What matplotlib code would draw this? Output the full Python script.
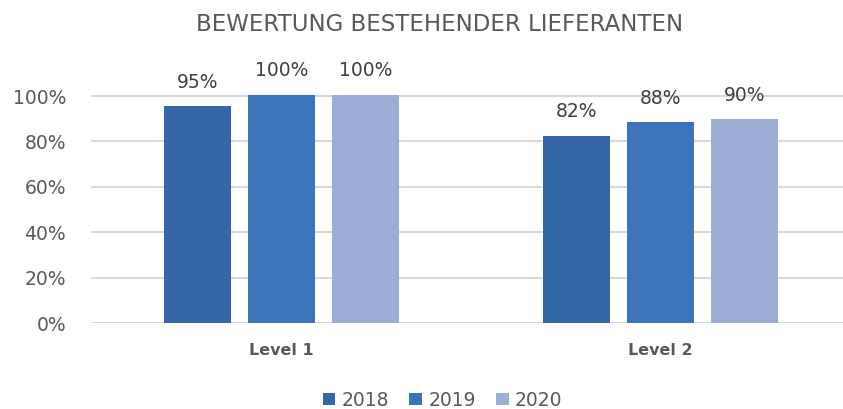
import matplotlib.pyplot as plt
import numpy as np
from matplotlib.patches import Patch

# data
categories = ['Level 1', 'Level 2']
years = ['2018', '2019', '2020']
values_2018 = [95.4, 82.4]
values_2019 = [100.4, 88.4]
values_2020 = [100.4, 89.7]
labels_2018 = [95, 82]
labels_2019 = [100, 88]
labels_2020 = [100, 90]
y_ticks = [0, 20, 40, 60, 80, 100]

colors = ['#3566A8', '#3D73BA', '#9AAED6']
text_col = '#595959'

plt.rcParams['font.family'] = ['DejaVu Sans']

fig = plt.figure(figsize=(8.43, 4.09), dpi=100)
ax = fig.add_axes([0.108, 0.2095, 0.892, 0.7763 - 0.2095])

x = np.arange(len(categories))
bar_w = 0.1755
step = 0.2217
series = [values_2018, values_2019, values_2020]
labels = [labels_2018, labels_2019, labels_2020]

for i, (vals, labs) in enumerate(zip(series, labels)):
    pos = x + (i - 1) * step
    ax.bar(pos, vals, width=bar_w, color=colors[i], zorder=3, label=years[i])
    for p, v, l in zip(pos, vals, labs):
        ax.text(p, v + 6.5, f"{l}%", ha='center', va='bottom', fontsize=13.5, color='#404040')

ax.set_xlim(-0.503, 1.482)
ax.set_ylim(0, 102)
ax.set_yticks(y_ticks)
ax.set_yticklabels([f"{t}%" for t in y_ticks], fontsize=13.5, color=text_col)
ax.tick_params(axis='y', length=0, pad=18)
ax.tick_params(axis='x', length=0, pad=14)
ax.set_xticks(x)
ax.set_xticklabels(categories, fontsize=11.5, fontweight='bold', color=text_col)
ax.grid(axis='y', color='#D9D9D9', linewidth=1.5, zorder=0)
for s in ax.spines.values():
    s.set_visible(False)

# title
fig.text(0.522, 0.94, 'BEWERTUNG BESTEHENDER LIEFERANTEN', ha='center', va='center',
         fontsize=16.5, color=text_col)

# legend
handles = [Patch(facecolor=c, label=y) for c, y in zip(colors, years)]
fig.legend(handles=handles, loc='center', bbox_to_anchor=(0.525, 0.022), ncol=3, frameon=False,
           fontsize=13.5, labelcolor=text_col, handlelength=0.65, handleheight=0.65,
           handletextpad=0.35, columnspacing=1.1)

fig.savefig('out.png', dpi=100)
